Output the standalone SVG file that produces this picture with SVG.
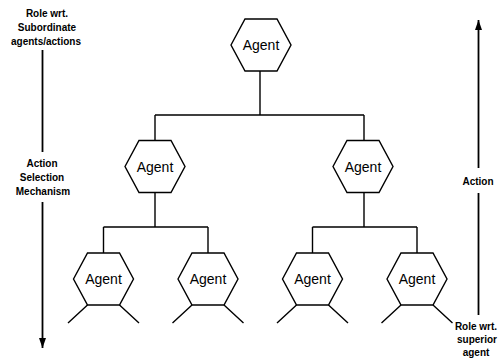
<svg xmlns="http://www.w3.org/2000/svg" width="502" height="359" viewBox="0 0 502 359">
<style>
.hex{fill:#fff;stroke:#000;stroke-width:1.4;stroke-linejoin:miter}
.ln{fill:none;stroke:#000;stroke-width:1.4}
.ar{fill:none;stroke:#000;stroke-width:1.8}
.lbl{font-family:"Liberation Sans",Arial,sans-serif;font-size:14px;fill:#000;text-anchor:middle}
.sm{font-family:"Liberation Sans",Arial,sans-serif;font-size:10px;font-weight:bold;fill:#000;text-anchor:middle}
</style>
<defs>
<polygon id="hx" points="-30,0 -16,-26 16,-26 30,0 16,26 -16,26"/>
<marker id="ah" markerUnits="userSpaceOnUse" markerWidth="10" markerHeight="12" viewBox="0 0 10 12" refX="10" refY="4" orient="auto">
<path d="M0,0.5 L10,4 L0,7.5 Z" fill="#000"/>
</marker>
</defs>
<rect width="502" height="359" fill="#fff"/>
<g id="connectors">
<path class="ln" d="M260,71 V115 M155,115 H364 M155,115 V141 M364,115 V141"/>
<path class="ln" d="M155,192 V227 M103.5,227 H208 M103.5,227 V253 M208,227 V253"/>
<path class="ln" d="M364,192 V227 M312.5,227 H417 M312.5,227 V253 M417,227 V253"/>
</g>
<g id="agent-top"><use href="#hx" class="hex" x="261" y="45"/><text class="lbl" x="261" y="50">Agent</text></g>
<g id="agent-mid-left"><use href="#hx" class="hex" x="155" y="166.5"/><text class="lbl" x="155" y="171.5">Agent</text></g>
<g id="agent-mid-right"><use href="#hx" class="hex" x="363" y="166.5"/><text class="lbl" x="363" y="171.5">Agent</text></g>
<g id="agent-b1"><use href="#hx" class="hex" x="103.5" y="279"/><text class="lbl" x="103.5" y="284">Agent</text><path class="ln" d="M87.5,305 L68,323 M119.5,305 L139,323"/></g>
<g id="agent-b2"><use href="#hx" class="hex" x="208" y="279"/><text class="lbl" x="208" y="284">Agent</text><path class="ln" d="M192,305 L172.5,323 M224,305 L243.5,323"/></g>
<g id="agent-b3"><use href="#hx" class="hex" x="312.5" y="279"/><text class="lbl" x="312.5" y="284">Agent</text><path class="ln" d="M296.5,305 L277,323 M328.5,305 L348,323"/></g>
<g id="agent-b4"><use href="#hx" class="hex" x="417" y="279"/><text class="lbl" x="417" y="284">Agent</text><path class="ln" d="M401,305 L381.5,323 M433,305 L452.5,323"/></g>
<g id="left-axis">
<text class="sm" x="47" y="17">Role wrt.</text>
<text class="sm" x="47" y="31">Subordinate</text>
<text class="sm" x="46" y="45">agents/actions</text>
<path class="ar" d="M42.5,50 V152"/>
<text class="sm" x="42" y="167">Action</text>
<text class="sm" x="42" y="181">Selection</text>
<text class="sm" x="43" y="195">Mechanism</text>
<path class="ar" d="M42.5,202 V348" marker-end="url(#ah)"/>
</g>
<g id="right-axis">
<path class="ar" d="M478.5,168 V20" marker-end="url(#ah)"/>
<text class="sm" x="478" y="185">Action</text>
<path class="ar" d="M478.5,193 V315"/>
<text class="sm" x="476" y="330">Role wrt.</text>
<text class="sm" x="477" y="343">superior</text>
<text class="sm" x="476" y="356">agent</text>
</g>
</svg>
